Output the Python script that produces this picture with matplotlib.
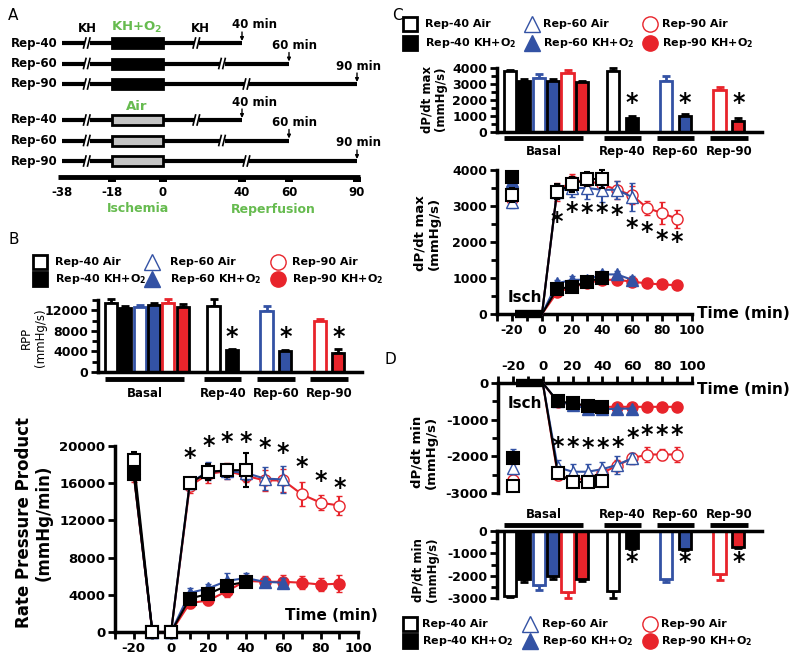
import numpy as np
import matplotlib
matplotlib.use('Agg')
import matplotlib.pyplot as plt
import matplotlib.transforms as mtransforms
from matplotlib.patches import Rectangle
from matplotlib.ticker import MultipleLocator

plt.rcParams['font.family'] = ['DejaVu Sans']
plt.rcParams['font.weight'] = 'bold'
plt.rcParams['mathtext.default'] = 'bf'
plt.rcParams['axes.unicode_minus'] = False

BLUE = '#3352a4'
RED = '#e8242b'
GREEN = '#66bb4f'
GREY = '#c4c4c4'
W, H = 800, 661

# ---------------- panel A: protocol schematic (minutes) ----------------
a_times = [-38, -18, 0, 40, 60, 90]
a_rows = ['Rep-40', 'Rep-60', 'Rep-90']
a_ends = [40, 60, 90]
a_breaks = [17, 30, 42]
a_first_break = -28

# ---------------- bar data ----------------
# basal order: Air40, KH40, Air60, KH60, Air90, KH90
bar_groups = ['Basal', 'Rep-40', 'Rep-60', 'Rep-90']
rpp_basal = [13500, 12500, 12700, 13000, 13500, 12700]
rpp_basal_err = [600, 300, 400, 500, 700, 500]
rpp_air = [12800, 11800, 9900]
rpp_air_err = [1300, 1000, 500]
rpp_kh = [4200, 4000, 3700]
rpp_kh_err = [300, 300, 700]

max_basal = [3800, 3200, 3400, 3200, 3700, 3100]
max_basal_err = [100, 100, 200, 100, 200, 100]
max_air = [3800, 3200, 2600]
max_air_err = [200, 300, 200]
max_kh = [900, 1000, 700]
max_kh_err = [100, 100, 150]

min_basal = [-2900, -2150, -2420, -2020, -2730, -2150]
min_basal_err = [60, 150, 200, 120, 250, 80]
min_air = [-2690, -2150, -1930]
min_air_err = [300, 150, 250]
min_kh = [-760, -790, -720]
min_kh_err = [50, 50, 50]

# ---------------- time course data ----------------
# series order: Air40, KH40, Air60, KH60, Air90, KH90
labels = ['Rep-40 Air', 'Rep-40 KH+O$_2$', 'Rep-60 Air', 'Rep-60 KH+O$_2$',
          'Rep-90 Air', 'Rep-90 KH+O$_2$']

rpp_t40 = [-20, -10, 0, 10, 20, 30, 40]
rpp_t60 = [-20, -10, 0, 10, 20, 30, 40, 50, 60]
rpp_t90 = [-20, -10, 0, 10, 20, 30, 40, 50, 60, 70, 80, 90]
rpp_air40 = [18500, 0, 0, 16000, 17200, 17400, 17400]
rpp_air40_err = [900, 0, 0, 600, 900, 700, 1800]
rpp_kh40 = [17000, 0, 0, 3600, 4100, 5000, 5400]
rpp_kh40_err = [700, 0, 0, 400, 500, 600, 500]
rpp_air60 = [17600, 0, 0, 16000, 17300, 17300, 17100, 16500, 16400]
rpp_air60_err = [800, 0, 0, 600, 1000, 800, 800, 1200, 1400]
rpp_kh60 = [17200, 0, 0, 4200, 4700, 5500, 5800, 5400, 5300]
rpp_kh60_err = [700, 0, 0, 500, 500, 800, 500, 400, 500]
rpp_air90 = [17200, 0, 0, 15700, 17000, 17300, 16800, 16300, 16300, 14800, 13900, 13600]
rpp_air90_err = [900, 0, 0, 700, 1000, 900, 700, 1100, 1200, 1300, 800, 1000]
rpp_kh90 = [17000, 0, 0, 3100, 3400, 4400, 5500, 5400, 5400, 5300, 5100, 5200]
rpp_kh90_err = [900, 0, 0, 500, 500, 600, 600, 600, 700, 700, 700, 900]
rpp_star_t = [10, 20, 30, 40, 50, 60, 70, 80, 90]
rpp_star_y = [18700, 20000, 20400, 20400, 19800, 19300, 17700, 16200, 15500]

# dP/dt panels: basal value at -20, then reperfusion from 0
rep_t40 = [0, 10, 20, 30, 40]
rep_t60 = [0, 10, 20, 30, 40, 50, 60]
rep_t90 = [0, 10, 20, 30, 40, 50, 60, 70, 80, 90]
star_t = [10, 20, 30, 40, 50, 60, 70, 80, 90]

max_pre = [3300, 3800, 3100, 3700, 3200, 3800]
max_pre_err = [200, 100, 150, 150, 200, 150]
max_air40 = [0, 3400, 3600, 3750, 3750]
max_air40_err = [0, 200, 200, 200, 250]
max_kh40 = [0, 700, 750, 900, 1000]
max_kh40_err = [0, 100, 100, 100, 100]
max_air60 = [0, 3400, 3500, 3500, 3450, 3450, 3250]
max_air60_err = [0, 200, 250, 300, 350, 250, 400]
max_kh60 = [0, 850, 950, 950, 1100, 1100, 950]
max_kh60_err = [0, 100, 100, 100, 100, 100, 100]
max_air90 = [0, 3400, 3700, 3700, 3600, 3450, 3300, 2950, 2800, 2650]
max_air90_err = [0, 250, 200, 200, 200, 250, 250, 200, 300, 250]
max_kh90 = [0, 600, 750, 850, 950, 950, 900, 850, 820, 800]
max_kh90_err = [0, 100, 100, 100, 100, 100, 100, 100, 100, 100]
max_star_y = [2550, 2830, 2800, 2800, 2750, 2400, 2280, 2060, 2000]

min_pre = [-2800, -2050, -2320, -1960, -2650, -2050]
min_pre_err = [100, 100, 150, 150, 150, 150]
min_air40 = [0, -2450, -2700, -2700, -2680]
min_air40_err = [0, 150, 150, 150, 150]
min_kh40 = [0, -500, -550, -620, -650]
min_kh40_err = [0, 50, 50, 50, 50]
min_air60 = [0, -2300, -2420, -2420, -2350, -2230, -2050]
min_air60_err = [0, 200, 200, 200, 200, 250, 150]
min_kh60 = [0, -500, -600, -700, -720, -700, -700]
min_kh60_err = [0, 50, 50, 50, 50, 50, 50]
min_air90 = [0, -2500, -2650, -2600, -2450, -2250, -2050, -1950, -1950, -1950]
min_air90_err = [0, 150, 150, 150, 150, 150, 150, 200, 150, 200]
min_kh90 = [0, -520, -580, -620, -650, -650, -650, -650, -650, -650]
min_kh90_err = [0, 50, 50, 50, 50, 50, 50, 50, 50, 50]
min_star_y = [-1740, -1740, -1780, -1760, -1740, -1500, -1420, -1420, -1420]

styles = [
    dict(marker='s', color='k', mfc='white', mew=1.5),
    dict(marker='s', color='k', mfc='k', mew=1.5),
    dict(marker='^', color=BLUE, mfc='white', mew=1),
    dict(marker='^', color=BLUE, mfc=BLUE, mew=1),
    dict(marker='o', color=RED, mfc='white', mew=1),
    dict(marker='o', color=RED, mfc=RED, mew=1),
]


def box(l, t, r, b):
    return [l / W, 1 - b / H, (r - l) / W, (b - t) / H]


def style_axes(ax, size):
    ax.set_facecolor('none')
    for s in ax.spines.values():
        s.set_linewidth(2.5)
    ax.tick_params(which='both', width=2, length=5, labelsize=size, pad=2)
    ax.tick_params(which='minor', length=4)


def draw_series(ax, x, y, err, st, skip_first=False, z=3):
    x = np.asarray(x); y = np.asarray(y); err = np.asarray(err)
    ax.plot(x, y, color=st['color'], lw=1.5, zorder=z, clip_on=False)
    s = slice(1, None) if skip_first else slice(None)
    ax.errorbar(x[s], y[s], yerr=err[s], fmt=st['marker'], color=st['color'],
                mfc=st['mfc'], mec=st['color'], mew=st['mew'], ms=8,
                elinewidth=1.5, capsize=2, capthick=1.5, zorder=z, clip_on=False)


def bar_panel(ax, basal, basal_err, air, air_err, kh, kh_err, star_y,
              ylim, major, minor, size, neg=False):
    style_axes(ax, size)
    ax.set_xlim(0, 18.4)
    ax.set_ylim(*ylim)
    ax.yaxis.set_major_locator(MultipleLocator(major))
    ax.yaxis.set_minor_locator(MultipleLocator(minor))
    ax.set_xticks([])
    ax.spines['right'].set_visible(False)
    ax.spines['bottom' if neg else 'top'].set_visible(False)
    basal_pos = 0.9 + np.arange(6)
    centers = np.array([8.7, 12.4, 16.1])
    faces = ['white', 'k', 'white', BLUE, 'white', RED]
    edges = ['k', 'k', BLUE, 'k', RED, 'k']

    def one(x, v, e, fc, ec):
        ax.bar(x, v, width=0.85, color=fc, edgecolor=ec, linewidth=2, zorder=2)
        yerr = [[e], [0]] if neg else [[0], [e]]
        ax.errorbar(x, v, yerr=yerr, fmt='none', ecolor=ec, elinewidth=2,
                    capsize=3, capthick=2, zorder=1, clip_on=False)

    for i in range(6):
        one(basal_pos[i], basal[i], basal_err[i], faces[i], edges[i])
    for i in range(3):
        one(centers[i] - 0.65, air[i], air_err[i], 'white', edges[2 * i])
        one(centers[i] + 0.65, kh[i], kh_err[i], faces[2 * i + 1], 'k')
        ax.text(centers[i] + 0.65, star_y, '*', ha='center', va='center', fontsize=17)
    trans = mtransforms.blended_transform_factory(ax.transData, ax.transAxes)
    spans = [(0.5, 6.0)] + [(c - 1.3, c + 1.3) for c in centers]
    gy, ly = (1.09, 1.24) if neg else (-0.095, -0.3)
    for (a, b), name in zip(spans, bar_groups):
        ax.plot([a, b], [gy, gy], transform=trans, color='k', lw=3.5,
                clip_on=False, solid_capstyle='butt')
        ax.text((a + b) / 2, ly, name, transform=trans, ha='center',
                va='center', fontsize=8.5)


def legend(ov, y1, y2, mx, tx):
    for k in range(6):
        st = styles[k]
        col, row = k // 2, k % 2
        y = y1 if row == 0 else y2
        ov.plot(mx[col], y, st['marker'], ms=10 if col == 0 else 11,
                mfc=st['mfc'], mec=st['color'], mew=2 if col == 0 else 1)
        ov.text(tx[col], y, labels[k], ha='left', va='center', fontsize=8)


fig = plt.figure(figsize=(8, 6.61), dpi=100)

# overlay in pixel coordinates for schematic, legends and labels
ov = fig.add_axes([0, 0, 1, 1])
ov.set_xlim(0, W)
ov.set_ylim(H, 0)
ov.axis('off')

# ---------- panel A ----------
a_px = [62, 112, 163, 242, 289, 357]


def a_x(t):
    return np.interp(t, a_times, a_px)


for y0, fill in [(43, 'k'), (120, GREY)]:
    for i, (name, end, brk) in enumerate(zip(a_rows, a_ends, a_breaks)):
        y = y0 + i * 20.5
        ov.plot([a_x(-38), a_x(end)], [y, y], color='k', lw=3, solid_capstyle='butt')
        ov.add_patch(Rectangle((a_x(-18), y - 5), a_x(0) - a_x(-18), 10,
                               fc=fill, ec='k', lw=2, zorder=3))
        for bt in [a_first_break, brk]:
            bx = a_x(bt)
            ov.add_patch(Rectangle((bx - 2.5, y - 3), 5, 6, fc='white', ec='none', zorder=4))
            for dx in (-2.5, 1.5):
                ov.plot([bx + dx - 1, bx + dx + 1.5], [y + 5, y - 5], color='k', lw=1.2, zorder=5)
        ov.text(58, y, name, ha='right', va='center', fontsize=8.5)
        ov.annotate('', xy=(a_x(end), y - 2), xytext=(a_x(end), y - 11),
                    arrowprops=dict(arrowstyle='-|>', lw=1, color='k',
                                    mutation_scale=5, shrinkA=0, shrinkB=0))
        ov.text(a_x(end) + [13, 6, 1][i], y - 18, f'{end} min', ha='center',
                va='center', fontsize=8.5)

ov.text(87, 29, 'KH', ha='center', va='center', fontsize=8.5)
ov.text(137, 27, 'KH+O$_2$', ha='center', va='center', fontsize=9.5, color=GREEN)
ov.text(200, 29, 'KH', ha='center', va='center', fontsize=8.5)
ov.text(137, 107, 'Air', ha='center', va='center', fontsize=9.5, color=GREEN)
ov.plot([a_x(-38) - 4, a_x(90) + 3], [177, 177], color='k', lw=3.5, solid_capstyle='butt')
for t in a_times:
    ov.text(a_x(t), 193, str(t), ha='center', va='center', fontsize=8.5)
    if t != -38:
        ov.add_patch(Rectangle((a_x(t) - 4, 177), 8, 5, fc='k', ec='none'))
ov.text(138, 209, 'Ischemia', ha='center', va='center', fontsize=9, color=GREEN)
ov.text(273, 209, 'Reperfusion', ha='center', va='center', fontsize=9, color=GREEN)

# panel letters
for lt, x, y in [('A', 8, 15), ('B', 8, 240), ('C', 392, 15), ('D', 384, 360)]:
    ov.text(x, y, lt, ha='left', va='center', fontsize=11, fontweight='normal')

# legends
legend(ov, 262, 279, [40, 152, 278], [55, 170, 292])
legend(ov, 24, 43, [410, 532, 650], [425, 543, 662])
legend(ov, 624, 641, [410, 530, 650], [422, 542, 661])

# axis labels
ov.text(33, 338, 'RPP\n(mmHg/s)', rotation=90, ha='center', va='center',
        fontsize=8.5, fontweight='normal', linespacing=1.1)
ov.text(34, 523, 'Rate Pressure Product\n(mmHg/min)', rotation=90, ha='center',
        va='center', fontsize=12, linespacing=1.15)
ov.text(434, 99, 'dP/dt max\n(mmHg/s)', rotation=90, ha='center', va='center',
        fontsize=8.5, linespacing=1.1)
ov.text(427, 233, 'dP/dt max\n(mmHg/s)', rotation=90, ha='center', va='center',
        fontsize=9.5, linespacing=1.1)
ov.text(424, 452, 'dP/dt min\n(mmHg/s)', rotation=90, ha='center', va='center',
        fontsize=9.5, linespacing=1.1)
ov.text(425, 570, 'dP/dt min\n(mmHg/s)', rotation=90, ha='center', va='center',
        fontsize=8.5, linespacing=1.1)
ov.text(378, 616, 'Time (min)', ha='right', va='center', fontsize=11)
ov.text(790, 313, 'Time (min)', ha='right', va='center', fontsize=11)
ov.text(790, 390, 'Time (min)', ha='right', va='center', fontsize=11)
ov.text(525, 298, 'Isch', ha='center', va='center', fontsize=11)
ov.text(525, 403, 'Isch', ha='center', va='center', fontsize=11)

# ---------- bar charts ----------
axb = fig.add_axes(box(98, 300, 362, 372))
bar_panel(axb, rpp_basal, rpp_basal_err, rpp_air, rpp_air_err, rpp_kh, rpp_kh_err,
          6800, (0, 14000), 4000, 2000, 9)
axcb = fig.add_axes(box(497, 68, 762, 132))
bar_panel(axcb, max_basal, max_basal_err, max_air, max_air_err, max_kh, max_kh_err,
          1800, (0, 4000), 1000, 500, 9)
axdb = fig.add_axes(box(497, 531, 762, 598))
bar_panel(axdb, min_basal, min_basal_err, min_air, min_air_err, min_kh, min_kh_err,
          -1400, (-3000, 0), 1000, 500, 9, neg=True)

# ---------- RPP time course ----------
axl = fig.add_axes(box(115, 446, 358, 632))
style_axes(axl, 9.5)
axl.spines['top'].set_visible(False)
axl.spines['right'].set_visible(False)
axl.set_xlim(-30, 100)
axl.set_ylim(0, 20000)
axl.set_xticks([-20, 0, 20, 40, 60, 80, 100])
axl.xaxis.set_minor_locator(MultipleLocator(10))
axl.yaxis.set_major_locator(MultipleLocator(4000))
axl.tick_params(axis='x', which='minor', length=5)
rpp_t = [rpp_t40, rpp_t40, rpp_t60, rpp_t60, rpp_t90, rpp_t90]
rpp_v = [rpp_air40, rpp_kh40, rpp_air60, rpp_kh60, rpp_air90, rpp_kh90]
rpp_e = [rpp_air40_err, rpp_kh40_err, rpp_air60_err, rpp_kh60_err, rpp_air90_err, rpp_kh90_err]
for k in [5, 4, 3, 2, 1, 0]:
    draw_series(axl, rpp_t[k], rpp_v[k], rpp_e[k], styles[k], z=3 + (5 - k) * 0.1)
for t, y in zip(rpp_star_t, rpp_star_y):
    axl.text(t, y, '*', ha='center', va='center', fontsize=17)

# ---------- dP/dt time courses ----------
rep_t = [rep_t40, rep_t40, rep_t60, rep_t60, rep_t90, rep_t90]


def dpdt_panel(ax, pre, pre_err, vals, errs, star_y, size, neg=False):
    style_axes(ax, size)
    ax.spines['right'].set_visible(False)
    ax.set_xlim(-30, 100)
    ax.set_xticks([-20, 0, 20, 40, 60, 80, 100])
    ax.xaxis.set_minor_locator(MultipleLocator(10))
    ax.tick_params(axis='x', which='minor', length=5)
    ax.yaxis.set_major_locator(MultipleLocator(1000))
    ax.yaxis.set_minor_locator(MultipleLocator(500))
    if neg:
        ax.set_ylim(-3000, 0)
        ax.spines['bottom'].set_visible(False)
        ax.xaxis.tick_top()
    else:
        ax.set_ylim(0, 4000)
        ax.spines['top'].set_visible(False)
    for k in [5, 4, 3, 2, 1, 0]:
        st = styles[k]
        draw_series(ax, rep_t[k], vals[k], errs[k], st, skip_first=True,
                    z=3 + (5 - k) * 0.1)
        ax.errorbar([-20], [pre[k]], yerr=[pre_err[k]], fmt=st['marker'],
                    color=st['color'], mfc=st['mfc'], mec=st['color'],
                    mew=st['mew'], ms=8, elinewidth=1.5, capsize=2,
                    capthick=1.5, zorder=3 + (5 - k) * 0.1, clip_on=False)
    ax.plot([-18, 0], [0, 0], color='k', lw=6, solid_capstyle='butt',
            zorder=6, clip_on=False)
    for t, y in zip(star_t, star_y):
        ax.text(t, y, '*', ha='center', va='center', fontsize=17, zorder=7)


axc = fig.add_axes(box(497, 170, 692, 314))
dpdt_panel(axc, max_pre, max_pre_err,
           [max_air40, max_kh40, max_air60, max_kh60, max_air90, max_kh90],
           [max_air40_err, max_kh40_err, max_air60_err, max_kh60_err,
            max_air90_err, max_kh90_err], max_star_y, 9)
axd = fig.add_axes(box(498, 383, 692, 493))
dpdt_panel(axd, min_pre, min_pre_err,
           [min_air40, min_kh40, min_air60, min_kh60, min_air90, min_kh90],
           [min_air40_err, min_kh40_err, min_air60_err, min_kh60_err,
            min_air90_err, min_kh90_err], min_star_y, 9.5, neg=True)

fig.savefig('out.png', dpi=100)
